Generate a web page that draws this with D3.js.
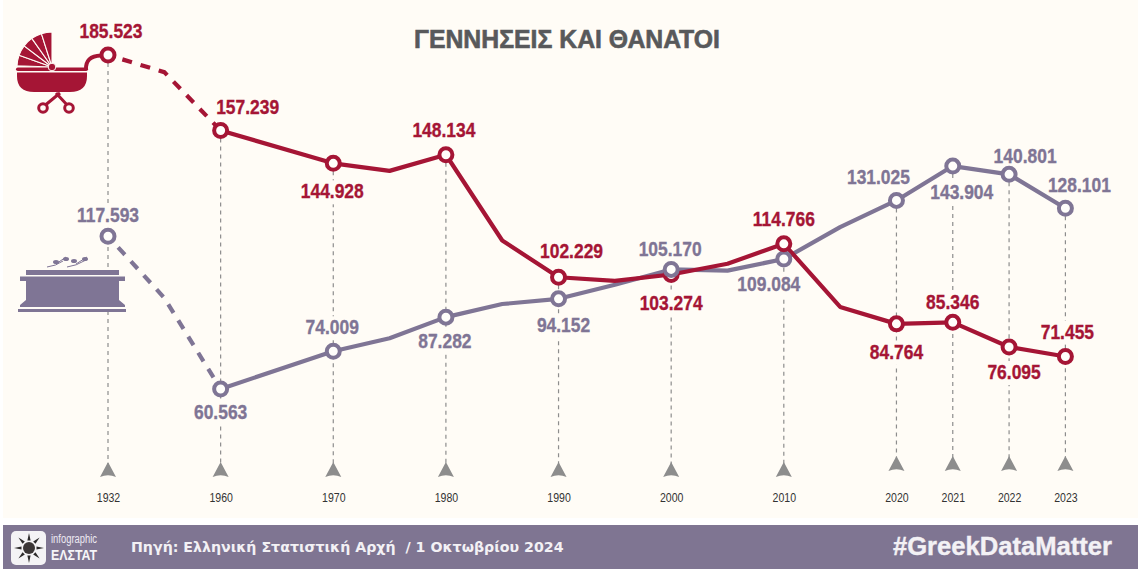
<!DOCTYPE html>
<html lang="el">
<head>
<meta charset="utf-8">
<script src="https://cdn.jsdelivr.net/npm/d3@7"></script>
<style>
html,body{margin:0;padding:0;background:#fff}
svg{display:block}
text{font-family:"Liberation Sans",sans-serif}
</style>
</head>
<body>
<svg id="chart" width="1138" height="569"></svg>
<script>
// Slots along the x axis; only years in tickYears carry a marker and a tick label.
const slots = ["1932","1946","1960","1965","1970","1975","1980","1985","1990","1995","2000","2005","2010","2015","2020","2021","2022","2023"];
const tickYears = ["1932","1960","1970","1980","1990","2000","2010","2020","2021","2022","2023"];
const births = [185523,179100,157239,null,144928,142100,148134,116000,102229,100900,103274,107300,114766,91100,84764,85346,76095,71455];
const deaths = [117593,94500,60563,null,74009,79400,87282,92200,94152,99400,105170,104700,109084,121000,131025,143904,140801,128101];
const title = "ΓΕΝΝΗΣΕΙΣ ΚΑΙ ΘΑΝΑΤΟΙ";
const sourceText = "Πηγή: Ελληνική Στατιστική Αρχή  / 1 Οκτωβρίου 2024";
const hashtag = "#GreekDataMatter";

// Label offsets from each marker [dx, dy to baseline], in tickYears order (layout only).
const birthOffsets = [[3,-17],[27,-16],[-1,35],[-2,-18],[13,-19],[0,36],[0,-18],[0,35],[0,-13],[5,32],[2,-18]];
const deathOffsets = [[0,-14],[0,30],[-1,-17],[-1,31],[5,33],[-1,-13],[-15,32],[-18,-16],[9,33],[16,-11],[14,-16]];

const crimson = "#a51535", purple = "#7f7595", paper = "#fffcf6", grey = "#8d8d8d";

const svg = d3.select("#chart");
svg.append("rect").attr("x",3).attr("y",0).attr("width",1135).attr("height",518).attr("fill",paper);

// Horizontally condense a text element by a factor, as no narrow face is installed
function condense(sel, factor){
  sel.each(function(){
    const w = this.getComputedTextLength();
    d3.select(this).attr("textLength",w*factor).attr("lengthAdjust","spacingAndGlyphs");
  });
  return sel;
}

const x = d3.scalePoint().domain(slots).range([108,1065.4]);
// The published picture is not strictly linear at its lower end, so the scale has extra knots.
const y = d3.scaleLinear().domain([60563,71455,76095,185523]).range([389,356.5,347,55]);
const fmt = d3.formatLocale({decimal:",",thousands:".",grouping:[3],currency:["","€"]}).format(",d");

const rows = (vals) => slots.map((s,i)=>({year:s,value:vals[i]})).filter(d=>d.value!==null);
const birthRows = rows(births), deathRows = rows(deaths);
const line = d3.line().x(d=>x(d.year)).y(d=>y(d.value));
const firstSolid = 2; // 1932 to 1960 is drawn dashed

// Guides and triangles
const lateYears = new Set(["2020","2021","2022","2023"]);
const triTop = d => lateYears.has(d) ? 456 : 462;
const guides = svg.append("g");
tickYears.forEach(yr=>{
  const vals = [births[slots.indexOf(yr)],deaths[slots.indexOf(yr)]];
  guides.append("line")
    .attr("x1",x(yr)).attr("x2",x(yr))
    .attr("y1",y(d3.max(vals))).attr("y2",triTop(yr)+2)
    .attr("stroke",grey).attr("stroke-width",1.2).attr("stroke-dasharray","4 4");
  guides.append("path")
    .attr("transform",`translate(${x(yr)},${triTop(yr)})`)
    .attr("d","M0,0 L8,15 Q0,11.5 -8,15 Z")
    .attr("fill",grey);
});

// Axis tick labels
const axis = d3.axisBottom(x).tickValues(tickYears).tickSize(0).tickPadding(0);
const axisG = svg.append("g").attr("transform","translate(0,492)").call(axis);
axisG.select(".domain").remove();
axisG.selectAll("text").attr("font-size",13.5).attr("fill","#333").style("font-family",'"Liberation Sans",sans-serif').call(condense,0.78);

// Value labels sit on a paper patch so they break the guides
function drawLabels(rowsSet, offsets, color){
  const g = svg.append("g");
  rowsSet.filter(d=>tickYears.includes(d.year)).forEach((d,i)=>{
    const px = x(d.year)+offsets[i][0], py = y(d.value)+offsets[i][1];
    const patch = g.append("rect").attr("fill",paper);
    const t = g.append("text")
      .attr("x",px).attr("y",py)
      .attr("text-anchor","middle").attr("font-size",21).attr("font-weight",700)
      .attr("fill",color).attr("stroke",color).attr("stroke-width",0.35)
      .text(fmt(d.value)).call(condense,0.83);
    const w = t.node().getComputedTextLength();
    patch.attr("x",px-w/2-2).attr("y",py-18).attr("width",w+4).attr("height",24);
  });
}
drawLabels(deathRows,deathOffsets,purple);
drawLabels(birthRows,birthOffsets,crimson);

// Lines
function drawLine(rowsSet,color){
  svg.append("path").datum(rowsSet.slice(0,firstSolid+1)).attr("d",line)
    .attr("fill","none").attr("stroke",color).attr("stroke-width",4.2)
    .attr("stroke-dasharray","10 9").attr("stroke-dashoffset",-15);
  svg.append("path").datum(rowsSet.slice(firstSolid)).attr("d",line)
    .attr("fill","none").attr("stroke",color).attr("stroke-width",4.2)
    .attr("stroke-linejoin","round");
}
drawLine(deathRows,purple);
drawLine(birthRows,crimson);

// Markers, lower value underneath
const markers = birthRows.map(d=>({...d,color:crimson})).concat(deathRows.map(d=>({...d,color:purple})))
  .filter(d=>tickYears.includes(d.year)).sort((a,b)=>a.value-b.value);
svg.append("g").selectAll("circle").data(markers).join("circle")
  .attr("cx",d=>x(d.year)).attr("cy",d=>y(d.value)).attr("r",6.5)
  .attr("fill","#fffefb").attr("stroke",d=>d.color).attr("stroke-width",4);

// Title
svg.append("text").attr("x",567).attr("y",48).attr("text-anchor","middle")
  .attr("font-size",26).attr("font-weight",700).attr("fill","#58595b")
  .attr("stroke","#58595b").attr("stroke-width",0.6).text(title)
  .attr("textLength",306).attr("lengthAdjust","spacingAndGlyphs");

// Pram icon
const pram = svg.append("g").attr("fill",crimson);
const fan = d3.arc().innerRadius(0).outerRadius(35);
d3.range(5).forEach(i=>{
  pram.append("path").attr("transform","translate(52,67)")
    .attr("d",fan({startAngle:(-88+i*17.6)*Math.PI/180,endAngle:(-88+(i+1)*17.6)*Math.PI/180}))
    .attr("stroke",paper).attr("stroke-width",1.1);
});
pram.append("rect").attr("x",16).attr("y",67.5).attr("width",72).attr("height",3.6).attr("rx",1.8);
pram.append("path").attr("d","M17,72.5 H87 V76 Q87,92 70,92 H34 Q17,92 17,76 Z");
pram.append("circle").attr("cx",52).attr("cy",67).attr("r",3.8).attr("stroke",paper).attr("stroke-width",1);
pram.append("path").attr("d","M86,70 Q85,56 101,55.5").attr("fill","none").attr("stroke",crimson).attr("stroke-width",4);
pram.append("path").attr("d","M60,93 L43,107 M56,93 L69,107").attr("fill","none").attr("stroke",crimson).attr("stroke-width",3);
[43,69].forEach(cx=>pram.append("circle").attr("cx",cx).attr("cy",108).attr("r",4.3)
  .attr("fill",paper).attr("stroke",crimson).attr("stroke-width",3));

// Tomb icon
const tomb = svg.append("g").attr("fill",purple);
tomb.append("rect").attr("x",26).attr("y",270).attr("width",93).attr("height",5);
tomb.append("rect").attr("x",20).attr("y",276.5).attr("width",105).attr("height",4.5);
tomb.append("path").attr("d","M26,281 H119 V300 L125,305 V307 H20 V305 L26,300 Z");
tomb.append("rect").attr("x",18).attr("y",309).attr("width",108).attr("height",3);
tomb.append("path").attr("d","M47,267 Q56,266 63,261 M56,264 L66,257 M67,267 Q76,266 86,260 M76,264 L87,257")
  .attr("fill","none").attr("stroke",purple).attr("stroke-width",1);
[[66,259],[74,261],[85,259],[56,262]].forEach(c=>tomb.append("ellipse").attr("cx",c[0]).attr("cy",c[1]).attr("rx",3).attr("ry",2));

// Footer
svg.append("rect").attr("x",3).attr("y",525).attr("width",1135).attr("height",44).attr("fill","#7f7592");
svg.append("rect").attr("x",11).attr("y",531).attr("width",35).attr("height",34).attr("rx",5).attr("fill","#f4f3f5");
const sun = svg.append("g").attr("transform","translate(29,548)");
d3.range(8).forEach(i=>{
  sun.append("path").attr("transform",`rotate(${i*45})`).attr("d","M-1.6,-7.5 L0,-15 L1.6,-7.5 Z").attr("fill","#2c2a2a");
});
sun.append("circle").attr("r",6).attr("fill","#3b3636");
svg.append("text").attr("x",51).attr("y",543).attr("font-size",12.5).attr("fill","#eeeaf2").text("infographic")
  .attr("textLength",46).attr("lengthAdjust","spacingAndGlyphs");
svg.append("text").attr("x",51).attr("y",560).attr("font-size",15).attr("font-weight",700).attr("fill","#f6f5f8").text("ΕΛΣΤΑΤ")
  .attr("textLength",46).attr("lengthAdjust","spacingAndGlyphs");
svg.append("text").attr("x",131).attr("y",552).style("white-space","pre")
  .style("font-family",'"DejaVu Sans",sans-serif').attr("font-size",14.2).attr("font-weight",700).attr("fill","#f3f1f5").text(sourceText);
svg.append("text").attr("x",1112).attr("y",555).attr("text-anchor","end")
  .style("font-family",'"Liberation Sans",sans-serif').attr("font-size",25.6).attr("font-weight",700)
  .attr("fill","#f3f1f5").attr("stroke","#f3f1f5").attr("stroke-width",0.4).text(hashtag);
</script>
</body>
</html>
